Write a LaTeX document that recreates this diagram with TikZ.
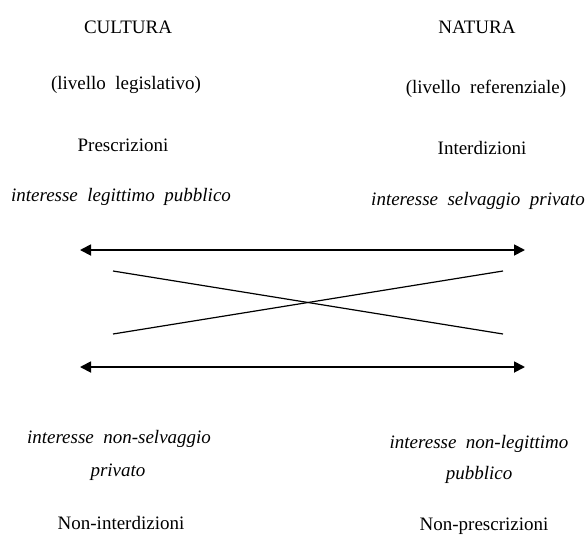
\documentclass[tikz,border=0pt]{standalone}
\usepackage{fontspec}
\setmainfont{Liberation Serif}
\usetikzlibrary{arrows.meta}
\tikzset{
  lbl/.style={anchor=base,inner sep=0pt,font=\fontsize{19}{23}\selectfont},
  itl/.style={anchor=base,inner sep=0pt,font=\fontsize{19}{23}\selectfont\itshape},
  dbl/.style={line width=1.8pt,{Triangle[length=11pt,width=11pt]}-{Triangle[length=11pt,width=11pt]}},
  crs/.style={line width=1.2pt}
}
\begin{document}
\begin{tikzpicture}[x=1pt,y=-1pt]
\useasboundingbox (0,0) rectangle (588,535);
% headings
\node[lbl] (cult) at (128,34) {CULTURA};
\node[lbl] (nat) at (477,34) {NATURA};
\node[lbl] (leg) at (126,89) {(livello\ \ legislativo)};
\node[lbl] (ref) at (486,93) {(livello\ \ referenziale)};
\node[lbl] (pre) at (123,151) {Prescrizioni};
\node[lbl] (int) at (482,154) {Interdizioni};
\node[itl] (ilp) at (121,201) {interesse\ \ legittimo\ \ pubblico};
\node[itl] (isp) at (478,205) {interesse\ \ selvaggio\ \ privato};
% bottom labels
\node[itl] (ins) at (119,443) {interesse\ \ non-selvaggio};
\node[itl] (ins2) at (118,476) {privato};
\node[lbl] (nint) at (121,529) {Non-interdizioni};
\node[itl] (inl) at (479,448) {interesse\ \ non-legittimo};
\node[itl] (inl2) at (479,479) {pubblico};
\node[lbl] (npre) at (484,530) {Non-prescrizioni};
% arrows
\coordinate (a1) at (80,250);
\coordinate (a2) at (525,250);
\coordinate (b1) at (80,367);
\coordinate (b2) at (525,367);
\draw[dbl] (a1) -- (a2);
\draw[dbl] (b1) -- (b2);
% cross
\coordinate (c1) at (113,271);
\coordinate (c2) at (503,334);
\coordinate (c3) at (113,334);
\coordinate (c4) at (503,271);
\draw[crs] (c1) -- (c2);
\draw[crs] (c3) -- (c4);
\end{tikzpicture}
\end{document}
